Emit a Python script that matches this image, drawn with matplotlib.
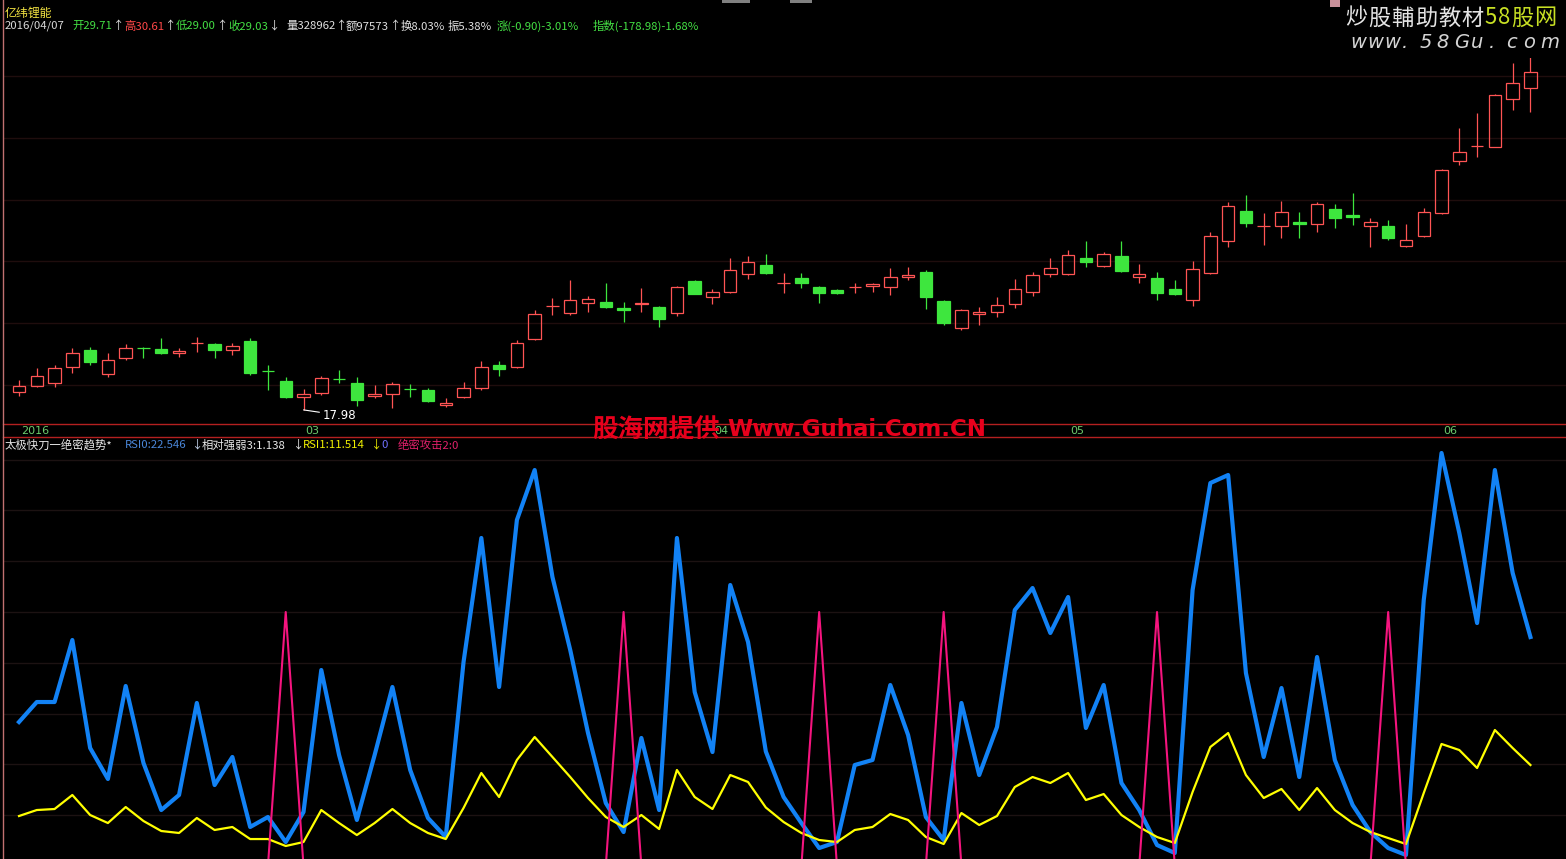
import matplotlib
matplotlib.use('Agg')
import matplotlib.pyplot as plt
from matplotlib.patches import Rectangle

plt.rcParams['font.family'] = ['Noto Sans CJK SC', 'DejaVu Sans']

# ---------------- data ----------------
opens = [19.44, 19.92, 20.17, 21.46, 22.84, 20.90, 22.19, 23.00, 22.92, 22.60,
         23.37, 23.33, 22.84, 23.57, 21.14, 20.33, 19.03, 19.36, 20.49, 20.17,
         19.11, 19.28, 19.68, 19.60, 18.39, 19.03, 19.76, 21.63, 21.46, 23.73,
         26.36, 25.84, 26.65, 26.73, 26.24, 26.57, 26.32, 25.84, 28.43, 27.13,
         27.54, 29.00, 29.71, 28.23, 28.67, 27.94, 27.70, 27.90, 28.02, 27.94,
         28.75, 29.16, 26.81, 24.62, 25.76, 25.92, 26.57, 27.54, 29.00, 29.00,
         30.29, 29.64, 30.45, 28.75, 28.67, 27.78, 26.89, 29.08, 31.67, 34.10,
         32.84, 32.88, 33.21, 33.05, 34.26, 33.78, 32.88, 32.88, 31.26, 32.07,
         33.94, 38.15, 39.32, 39.28, 43.17, 44.06]
highs = [20.41, 21.38, 21.63, 23.00, 23.08, 22.60, 23.33, 23.08, 23.81, 23.00,
         23.89, 23.41, 23.41, 23.81, 21.63, 20.65, 19.68, 20.73, 21.22, 20.65,
         20.01, 20.25, 20.09, 19.76, 18.95, 20.25, 21.95, 21.95, 23.65, 26.08,
         27.05, 28.51, 27.21, 28.27, 26.73, 27.86, 26.35, 28.02, 28.48, 27.78,
         30.29, 30.45, 30.61, 29.08, 29.08, 27.98, 27.75, 28.27, 28.22, 29.48,
         29.56, 29.32, 26.85, 26.12, 26.32, 27.13, 28.59, 29.16, 30.29, 30.94,
         31.67, 30.78, 31.67, 29.81, 29.16, 28.51, 30.05, 32.40, 34.83, 35.40,
         33.94, 34.91, 34.02, 34.83, 34.67, 35.56, 33.53, 33.37, 33.05, 34.34,
         37.46, 40.82, 42.04, 43.55, 46.09, 46.65]
lows = [19.11, 19.84, 19.84, 20.98, 21.63, 20.65, 22.03, 22.19, 22.52, 22.27,
        22.68, 22.19, 22.44, 20.82, 19.60, 18.95, 17.98, 19.20, 20.17, 18.30,
        18.95, 18.10, 19.03, 18.63, 18.22, 18.95, 19.60, 20.73, 21.38, 23.65,
        25.68, 25.68, 25.92, 26.25, 25.11, 25.92, 24.70, 25.59, 27.33, 26.57,
        27.46, 28.59, 29.00, 27.46, 27.86, 26.65, 27.40, 27.46, 27.54, 27.30,
        28.51, 26.16, 24.87, 24.46, 24.87, 25.51, 26.24, 27.21, 28.75, 28.92,
        29.56, 29.56, 29.16, 28.27, 26.89, 27.30, 26.40, 29.00, 31.18, 32.80,
        31.35, 31.91, 31.91, 32.40, 32.72, 32.97, 31.18, 31.75, 31.18, 31.99,
        33.86, 37.83, 38.47, 39.22, 42.28, 42.12]
closes = [19.92, 20.73, 21.38, 22.60, 21.87, 22.03, 23.00, 22.96, 22.60, 22.76,
          23.41, 22.84, 23.16, 20.98, 21.10, 19.03, 19.28, 20.57, 20.45, 18.79,
          19.28, 20.09, 19.64, 18.71, 18.55, 19.76, 21.46, 21.30, 23.41, 25.76,
          26.40, 26.89, 26.97, 26.32, 26.08, 26.65, 25.35, 27.94, 27.38, 27.54,
          29.32, 29.93, 29.03, 28.27, 28.27, 27.46, 27.46, 27.94, 28.19, 28.75,
          28.92, 27.13, 25.03, 26.08, 25.92, 26.49, 27.78, 28.92, 29.48, 30.54,
          29.97, 30.62, 29.24, 29.00, 27.46, 27.38, 29.40, 32.07, 34.50, 33.13,
          32.88, 34.02, 33.05, 34.67, 33.53, 33.61, 33.21, 31.91, 31.75, 34.02,
          37.42, 38.88, 39.36, 43.50, 44.47, 45.36]

rsi0 = [28.35, 32.28, 32.28, 44.49, 23.23, 17.13, 35.43, 20.28, 11.02, 13.98,
        32.09, 15.94, 21.46, 7.68, 9.65, 4.72, 10.63, 38.58, 21.85, 9.06,
        21.85, 35.24, 18.90, 9.45, 5.71, 40.16, 64.57, 35.24, 68.11, 77.95,
        56.89, 42.52, 26.18, 12.40, 6.69, 25.20, 11.02, 64.57, 34.25, 22.44,
        55.31, 44.09, 22.546, 13.58, 8.46, 3.54, 4.72, 19.88, 20.87, 35.63,
        25.79, 9.65, 5.12, 32.09, 17.91, 27.36, 50.39, 54.72, 45.87, 52.95,
        27.17, 35.63, 16.34, 11.02, 4.13, 2.56, 54.33, 75.39, 76.97, 37.99,
        21.46, 35.04, 17.52, 41.14, 20.87, 12.01, 6.69, 3.54, 2.17, 52.36,
        81.30, 65.55, 47.83, 77.95, 57.68, 45.08]
rsi1 = [9.84, 11.02, 11.22, 13.98, 10.04, 8.46, 11.61, 8.86, 6.89, 6.50,
        9.45, 7.09, 7.68, 5.31, 5.31, 3.94, 4.72, 11.02, 8.46, 6.10,
        8.46, 11.22, 8.46, 6.50, 5.31, 11.42, 18.31, 13.58, 20.87, 25.39,
        21.46, 17.52, 13.39, 9.65, 7.68, 10.04, 7.28, 18.90, 13.58, 11.22,
        17.91, 16.54, 11.514, 8.66, 6.50, 5.12, 4.72, 7.09, 7.68, 10.24,
        9.06, 5.71, 4.33, 10.43, 8.07, 9.84, 15.55, 17.52, 16.34, 18.31,
        12.99, 14.17, 10.04, 7.68, 5.71, 4.53, 14.57, 23.43, 26.18, 17.91,
        13.39, 15.16, 11.02, 15.35, 11.02, 8.46, 6.69, 5.51, 4.33, 14.37,
        24.02, 22.83, 19.29, 26.77, 23.23, 19.88]
attack = [0] * 86
for _k in [15, 34, 45, 52, 64, 77]:
    attack[_k] = 50

price_grid = [20, 25, 30, 35, 40, 45]
ind_grid = [10, 20, 30, 40, 50, 60, 70, 80]
date_labels = ['2016', '03', '04', '05', '06']
date_index = [0, 16, 39, 59, 80]

stock_name = '亿纬锂能'
quote_line = [
    (5, [('2016/04/07', '#d8d8d8')]),
    (72, [('开29.71', '#44e044'), ('↑', '#e0e0e0')]),
    (124, [('高30.61', '#ff4848'), ('↑', '#e0e0e0')]),
    (176, [('低29.00', '#44e044'), ('↑', '#e0e0e0')]),
    (228, [('收29.03', '#44e044'), ('↓', '#e0e0e0')]),
    (286, [('量328962', '#e0e0e0'), ('↑', '#e0e0e0')]),
    (346, [('额97573', '#e0e0e0'), ('↑', '#e0e0e0')]),
    (401, [('换8.03%', '#e0e0e0')]),
    (448, [('振5.38%', '#e0e0e0')]),
    (497, [('涨(-0.90)-3.01%', '#44e044')]),
    (593, [('指数(-178.98)-1.68%', '#44e044')]),
]
ind_line = [
    (5, '太极快刀一绝密趋势*', '#e8e8e8'),
    (125, 'RSI0:22.546', '#4a86d8'),
    (191, '↓', '#c8d8f0'),
    (202, '相对强弱3:1.138', '#e8e8e8'),
    (292, '↓', '#e8e8e8'),
    (303, 'RSI1:11.514', '#f0f000'),
    (370, '↓', '#f0f000'),
    (381, '0', '#7070ff'),
    (398, '绝密攻击2:0', '#e0206a'),
]

# ---------------- figure ----------------
W, H, DPI = 1566, 859, 100
fig = plt.figure(figsize=(W / DPI, H / DPI), dpi=DPI, facecolor='black')


def fx(x):
    return x / W


def fy(y):
    return 1 - y / H


X0 = 3
ax1 = fig.add_axes([fx(X0), fy(424), 1 - fx(X0), 424 / H])
ax2 = fig.add_axes([fx(X0), 0, 1 - fx(X0), (H - 437) / H])
for ax in (ax1, ax2):
    ax.set_facecolor('black')
    ax.set_xticks([])
    ax.set_yticks([])
    for s in ax.spines.values():
        s.set_visible(False)
    ax.set_xlim(-0.9, 87.0)
ax1.set_ylim(16.84, 51.15)
ax2.set_ylim(1.38, 84.45)

SEP = '#b42020'
ax1.spines['bottom'].set_visible(True)
ax1.spines['bottom'].set_color(SEP)
ax1.spines['bottom'].set_linewidth(1.0)
ax2.spines['top'].set_visible(True)
ax2.spines['top'].set_color(SEP)
ax2.spines['top'].set_linewidth(1.0)

for v in price_grid:
    ax1.axhline(v, color='#1f0d0d', lw=1.0, zorder=0)
for v in ind_grid:
    ax2.axhline(v, color='#1c1212', lw=1.0, zorder=0)

# left border
fig.add_artist(plt.Line2D([fx(2.5), fx(2.5)], [0, 1], color='#c07070', lw=1.0))

# ---------------- candles ----------------
RED = '#ff5454'
GREEN = '#3ee63e'
bw = 0.70
for i in range(len(opens)):
    o, h, l, c = opens[i], highs[i], lows[i], closes[i]
    if c >= o:
        ax1.vlines(i, l, o, color=RED, lw=0.9, zorder=2)
        ax1.vlines(i, c, h, color=RED, lw=0.9, zorder=2)
        ax1.add_patch(Rectangle((i - bw / 2, o), bw, max(c - o, 1e-3),
                                fill=False, edgecolor=RED, lw=0.9, zorder=3))
    else:
        ax1.vlines(i, l, h, color=GREEN, lw=0.9, zorder=2)
        ax1.add_patch(Rectangle((i - bw / 2, c), bw, o - c,
                                facecolor=GREEN, edgecolor=GREEN, lw=0.9, zorder=3))

low_i = lows.index(min(lows))
ax1.annotate(f'{min(lows):.2f}', xy=(low_i, min(lows)), xytext=(low_i + 1.05, min(lows) - 0.42),
             color='white', fontsize=8.5, va='center', ha='left', family='DejaVu Sans',
             arrowprops=dict(arrowstyle='-', color='white', lw=0.8, shrinkA=0, shrinkB=0))

for lab, di in zip(date_labels, date_index):
    ax1.text(di + 0.1, -0.0165, lab, transform=ax1.get_xaxis_transform(),
             color='#6ccc6c', fontsize=8, ha='left', va='center', family='DejaVu Sans',
             clip_on=False, zorder=1)

# ---------------- indicator ----------------
xs = list(range(len(rsi0)))
ax2.plot(xs, rsi0, color='#1282f5', lw=3.0, zorder=3)
ax2.plot(xs, rsi1, color='#ffff00', lw=1.6, zorder=4)
ax2.plot(xs, attack, color='#f5147e', lw=1.5, zorder=5)

# ---------------- texts ----------------
renderer = fig.canvas.get_renderer()


def seq(x0, y, parts, size, **kw):
    x = x0
    for s, col in parts:
        t = fig.text(fx(x), fy(y), s, color=col, fontsize=size, ha='left', va='center', **kw)
        x += t.get_window_extent(renderer).width
    return x


fig.text(fx(5), fy(13), stock_name, color='#f0e040', fontsize=8.6, ha='left', va='center')
for x0, parts in quote_line:
    seq(x0, 26, parts, 8.2)
for x0, s, col in ind_line:
    fig.text(fx(x0), fy(445), s, color=col, fontsize=8.2, ha='left', va='center')

# red watermark
fig.text(fx(592), fy(430), '股海网提供', color='#e8001c', fontsize=18.4,
         fontweight='bold', ha='left', va='center', zorder=10)
fig.text(fx(727), fy(430), 'Www.Guhai.Com.CN', color='#e8001c', fontsize=16.5,
         fontweight='bold', ha='left', va='center', family='DejaVu Sans', zorder=10)

# top-right watermark
fig.add_artist(Rectangle((fx(1338), fy(58)), 1 - fx(1338), 58 / H, transform=fig.transFigure,
                         facecolor='black', edgecolor='none', zorder=5))
fig.add_artist(Rectangle((fx(1330), fy(7)), 10 / W, 7 / H, transform=fig.transFigure,
                         facecolor='#c8909a', edgecolor='none', zorder=6))
for xa, wa in [(722, 28), (790, 22)]:
    fig.add_artist(Rectangle((fx(xa), fy(3)), wa / W, 3 / H, transform=fig.transFigure,
                             facecolor='#808080', edgecolor='none', zorder=6))
xx = 1345
for ch in '炒股輔助教材':
    t = fig.text(fx(xx), fy(18), ch, color='#e4e4e4', fontsize=16, ha='left', va='center', zorder=7)
    xx += t.get_window_extent(renderer).width + 1.0
for ch in '58股网':
    t = fig.text(fx(xx), fy(18), ch, color='#c8e024', fontsize=16, ha='left', va='center',
                 style='italic', zorder=7)
    xx += t.get_window_extent(renderer).width + 1.0
for k, ch in enumerate('www.58Gu.com'):
    fig.text(fx(1350 + 17.3 * k), fy(42), ch, color='#d4d4d4', fontsize=14, style='italic',
             family='DejaVu Sans', ha='left', va='center', zorder=7)

fig.savefig('out.png', dpi=DPI, facecolor='black')
